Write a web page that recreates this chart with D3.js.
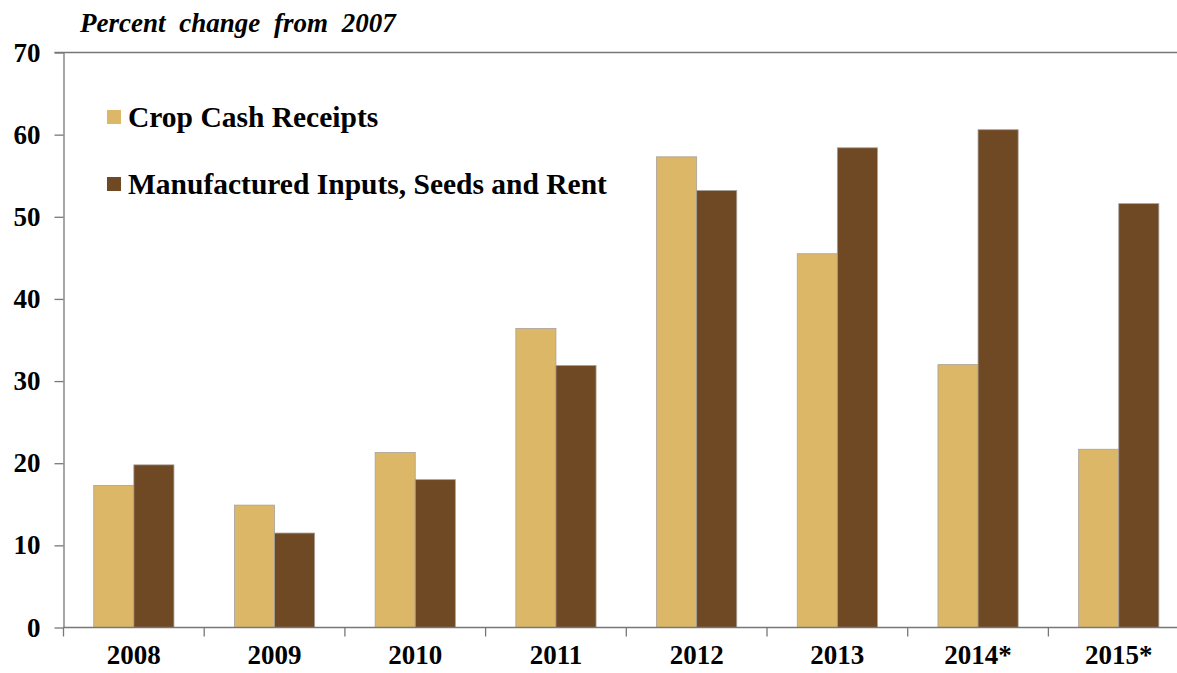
<!DOCTYPE html>
<html>
<head>
<meta charset="utf-8">
<script src="https://cdn.jsdelivr.net/npm/d3@7"></script>
<style>
  body { margin: 0; background: #fff; }
  text { font-family: "Liberation Serif", "DejaVu Serif", serif; fill: #000; }
</style>
</head>
<body>
<div id="chart"></div>
<script>
var years = ["2008", "2009", "2010", "2011", "2012", "2013", "2014*", "2015*"];
var cropReceipts = [17.3, 14.9, 21.3, 36.4, 57.3, 45.5, 32.0, 21.7];
var inputsSeedsRent = [19.8, 11.5, 18.0, 31.9, 53.2, 58.4, 60.6, 51.6];
var seriesNames = ["Crop Cash Receipts", "Manufactured Inputs, Seeds and Rent"];
var seriesColors = ["#dbb767", "#6f4824"];
var yTicks = [0, 10, 20, 30, 40, 50, 60, 70];

var width = 1177, height = 673;
var plotLeft = 63.5, plotTop = 52.5, plotBottom = 627.5;
var bandW = 140.7;

var svg = d3.select("#chart").append("svg")
  .attr("width", width)
  .attr("height", height);

var x = d3.scaleBand()
  .domain(years)
  .range([plotLeft, plotLeft + bandW * years.length])
  .paddingInner(0.43)
  .paddingOuter(0.215);

var sub = d3.scaleBand()
  .domain([0, 1])
  .range([0, x.bandwidth()]);

var y = d3.scaleLinear()
  .domain([0, 70])
  .range([plotBottom, plotTop]);

// bars
var series = [cropReceipts, inputsSeedsRent];
series.forEach(function (vals, s) {
  svg.append("g").selectAll("rect")
    .data(vals)
    .join("rect")
    .attr("x", function (d, i) { return x(years[i]) + sub(s); })
    .attr("y", function (d) { return y(d); })
    .attr("width", sub.bandwidth())
    .attr("height", function (d) { return y(0) - y(d); })
    .attr("fill", seriesColors[s])
    .attr("stroke", "#a9a19a")
    .attr("stroke-width", 0.8);
});

// top border line
svg.append("line")
  .attr("x1", plotLeft - 9).attr("x2", width)
  .attr("y1", y(70)).attr("y2", y(70))
  .attr("stroke", "#777").attr("stroke-width", 1.6);

// y axis
var yAxis = svg.append("g")
  .attr("transform", "translate(" + plotLeft + ",0)")
  .call(d3.axisLeft(y).tickValues(yTicks).tickSize(9).tickPadding(14).tickSizeOuter(0));
yAxis.select(".domain").attr("stroke", "#777").attr("stroke-width", 1.3);
yAxis.selectAll(".tick line").attr("stroke", "#777").attr("stroke-width", 1.3);
yAxis.selectAll("text")
  .attr("font-size", 27).attr("font-weight", "bold")
  .style("font-family", "'Liberation Serif', serif");

// x axis, ticks at band boundaries
var xAxis = svg.append("g")
  .attr("transform", "translate(0," + plotBottom + ")")
  .call(d3.axisBottom(x).tickSize(0).tickPadding(17).tickSizeOuter(0));
xAxis.select(".domain").attr("stroke", "#777").attr("stroke-width", 1.3)
  .attr("d", "M" + plotLeft + ",0H" + width);
xAxis.selectAll("text")
  .attr("font-size", 27).attr("font-weight", "bold")
  .style("font-family", "'Liberation Serif', serif");
xAxis.selectAll(".sep")
  .data(years)
  .join("line")
  .attr("class", "sep")
  .attr("x1", function (d, i) { return plotLeft + bandW * i; })
  .attr("x2", function (d, i) { return plotLeft + bandW * i; })
  .attr("y1", 0).attr("y2", 9)
  .attr("stroke", "#777").attr("stroke-width", 1.3);

// title
svg.append("text")
  .attr("x", 80).attr("y", 32)
  .attr("font-size", 27)
  .attr("font-weight", "bold")
  .attr("font-style", "italic")
  .attr("word-spacing", 7)
  .text("Percent change from 2007");

// legend
var legend = svg.append("g");
seriesNames.forEach(function (name, i) {
  var ly = 127 + i * 67;
  legend.append("rect")
    .attr("x", 107).attr("y", ly - 17)
    .attr("width", 14).attr("height", 14)
    .attr("fill", seriesColors[i]);
  legend.append("text")
    .attr("x", 128).attr("y", ly)
    .attr("font-size", 29.5)
    .attr("font-weight", "bold")
    .text(name);
});
</script>
</body>
</html>
